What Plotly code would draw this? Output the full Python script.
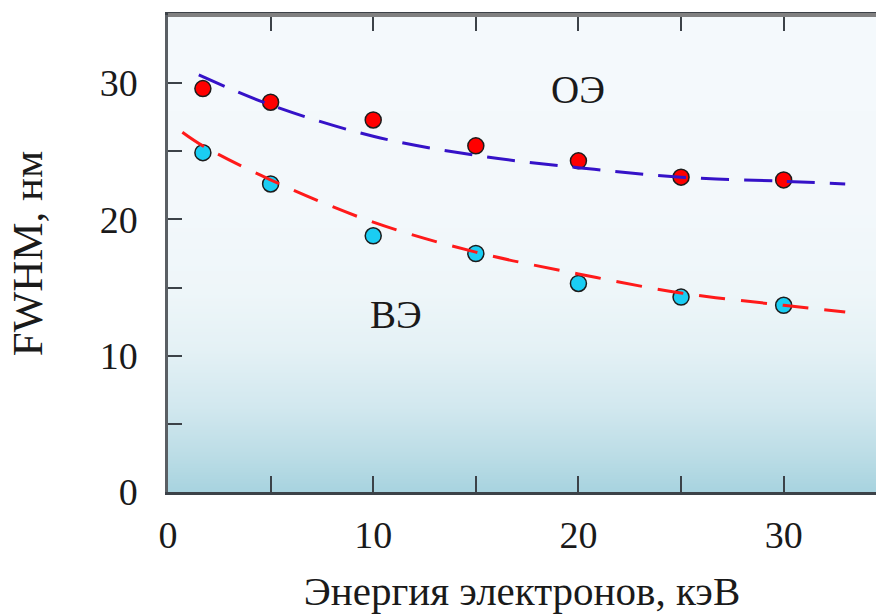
import plotly.graph_objects as go

# Measured FWHM vs electron energy
energy = [1.7, 5, 10, 15, 20, 25, 30]
fwhm_oe = [29.6, 28.6, 27.3, 25.4, 24.3, 23.1, 22.9]
fwhm_ve = [24.9, 22.6, 18.8, 17.5, 15.3, 14.3, 13.7]

# Trend curves (dashed)
trend_oe_x = [1.5, 5, 10, 15, 20, 25, 30, 33]
trend_oe_y = [30.6, 28.4, 26.1, 24.7, 23.8, 23.1, 22.8, 22.6]
trend_ve_x = [0.7, 1.7, 5, 10, 15, 20, 25, 30, 33]
trend_ve_y = [26.4, 25.4, 22.9, 19.8, 17.6, 16.0, 14.6, 13.7, 13.2]

tick_vals = [0, 5, 10, 15, 20, 25, 30, 35]
tick_text = ["0", "", "10", "", "20", "", "30", ""]

FONT = "Liberation Serif"
TXT = "#1a1a1a"

fig = go.Figure()

# Plot-area background: light at the top, pale blue toward the bottom
fig.add_trace(go.Heatmap(
    x=[0, 35], y=[0, 35], z=[[0, 0], [1, 1]],
    zsmooth="best", showscale=False, hoverinfo="skip",
    colorscale=[[0.0, "#a7d3df"], [0.08, "#bcdde6"], [0.18, "#d2e8ef"],
                [0.3, "#e4f1f5"], [0.42, "#eef6f9"], [0.6, "#f3f8fb"],
                [1.0, "#f4f9fc"]],
))

marker_line = dict(color="#1c1c1c", width=1.5)
fig.add_trace(go.Scatter(x=energy, y=fwhm_oe, mode="markers",
                         marker=dict(size=16, color="#ff0000", line=marker_line)))
fig.add_trace(go.Scatter(x=energy, y=fwhm_ve, mode="markers",
                         marker=dict(size=16, color="#1acdf3", line=marker_line)))

fig.add_trace(go.Scatter(x=trend_oe_x, y=trend_oe_y, mode="lines",
                         line=dict(color="#3512c8", width=3, dash="28px,15px",
                                   shape="spline")))
fig.add_trace(go.Scatter(x=trend_ve_x, y=trend_ve_y, mode="lines",
                         line=dict(color="#ff1a1a", width=3, dash="26px,16px",
                                   shape="spline")))

fig.add_annotation(x=20, y=29.5, text="ОЭ", showarrow=False,
                   font=dict(family=FONT, size=39, color=TXT))
fig.add_annotation(x=11.1, y=13.0, text="ВЭ", showarrow=False,
                   font=dict(family=FONT, size=39, color=TXT))

# Top frame line
fig.add_shape(type="line", xref="paper", yref="paper", x0=0, x1=1, y0=1, y1=1,
              line=dict(color="#808080", width=4))

fig.update_layout(
    width=876, height=614,
    margin=dict(l=168, r=0, t=15, b=122),
    paper_bgcolor="white", plot_bgcolor="#f4f9fc",
    showlegend=False,
    font=dict(family=FONT, color=TXT),
    xaxis=dict(
        range=[0, 34.5], tickvals=tick_vals, ticktext=tick_text,
        ticks="inside", ticklen=16, tickwidth=2, tickcolor="#3c4248",
        showline=True, linecolor="#3c4248", linewidth=2.5, mirror="ticks",
        showgrid=False, zeroline=False,
        tickfont=dict(family=FONT, size=38, color=TXT),
        ticklabelstandoff=8,
        title=dict(text="Энергия электронов, кэВ", standoff=22,
                   font=dict(family=FONT, size=41, color=TXT)),
    ),
    yaxis=dict(
        range=[0, 35], tickvals=tick_vals, ticktext=tick_text,
        ticks="inside", ticklen=14, tickwidth=2, tickcolor="#3c4248",
        showline=True, linecolor="#5a5f64", linewidth=2.5,
        showgrid=False, zeroline=False,
        tickfont=dict(family=FONT, size=38, color=TXT),
        ticklabelstandoff=20,
        title=dict(text="FWHM, нм", standoff=44,
                   font=dict(family=FONT, size=43, color=TXT)),
    ),
)

fig.write_html("out.html")
